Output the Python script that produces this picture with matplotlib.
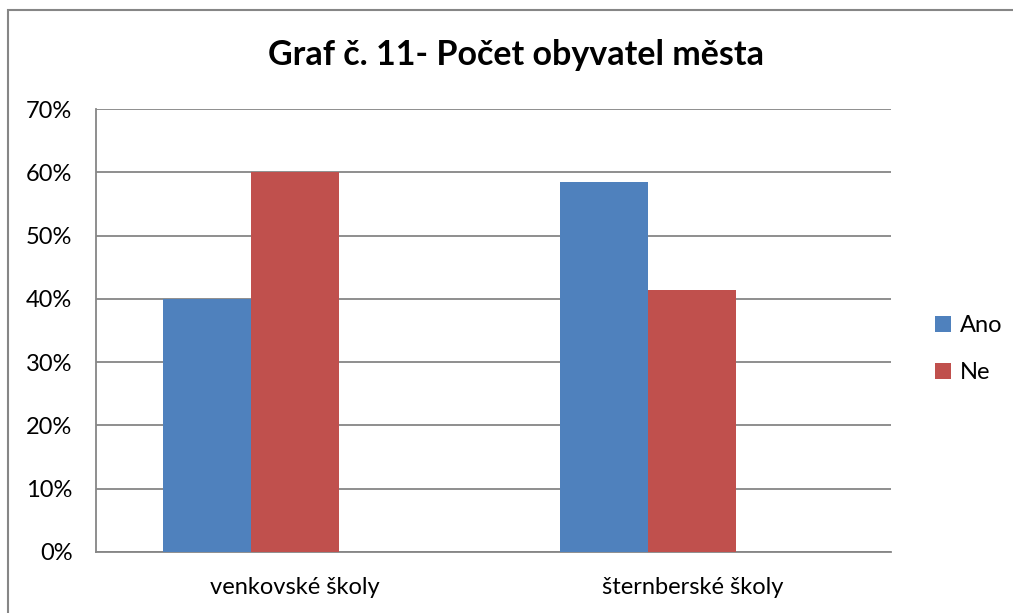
import matplotlib
matplotlib.use("Agg")
import matplotlib.pyplot as plt
from matplotlib.patches import Rectangle
import numpy as np

categories = ["venkovské školy", "šternberské školy"]
ano = [40.0, 58.4]
ne = [60.0, 41.4]
series_names = ["Ano", "Ne"]
yticks = [0, 10, 20, 30, 40, 50, 60, 70]
title = "Graf č. 11- Počet obyvatel města"

plt.rcParams['font.family'] = ['Lato', 'DejaVu Sans']

fig = plt.figure(figsize=(10.13, 6.13), dpi=100)
ax = fig.add_axes([96/1013, 1-552/613, (891-96)/1013, (552-109)/613])

grid_c = '#868686'
x = np.arange(len(categories))
w = 0.2214
ax.bar(x - w, ano, width=w, color='#4F81BD', label=series_names[0], zorder=3)
ax.bar(x, ne, width=w, color='#C0504D', label=series_names[1], zorder=3)

ax.set_xlim(-0.5, 1.5)
ax.set_ylim(0, 70)
ax.set_yticks(yticks)
ax.set_yticklabels([f"{v}%" for v in yticks])
ax.set_xticks(x)
ax.set_xticklabels(categories)
ax.tick_params(axis='both', length=0, labelsize=17, colors='black')
ax.tick_params(axis='y', pad=17)
ax.tick_params(axis='x', pad=18)
ax.yaxis.grid(True, color=grid_c, lw=1.3, zorder=0)
ax.set_axisbelow(True)
for s in ['top', 'right']:
    ax.spines[s].set_visible(False)
for s in ['left', 'bottom']:
    ax.spines[s].set_color(grid_c)
    ax.spines[s].set_linewidth(1.3)

fig.text(516/1013, 1-55/613, title, ha='center', va='center', fontsize=24.5, fontweight='bold')

leg = ax.legend(loc='center left', bbox_to_anchor=(914/1013, 1-349/613), bbox_transform=fig.transFigure,
                frameon=False, fontsize=17, handlelength=0.65, handleheight=0.65, handletextpad=0.4,
                labelspacing=1.1)

fig.patches.append(Rectangle((8/1013, -0.1), 1.2, 1.1 - 10/613, transform=fig.transFigure,
                             fill=False, edgecolor=grid_c, lw=1.5))

fig.savefig("out.png", dpi=100)
